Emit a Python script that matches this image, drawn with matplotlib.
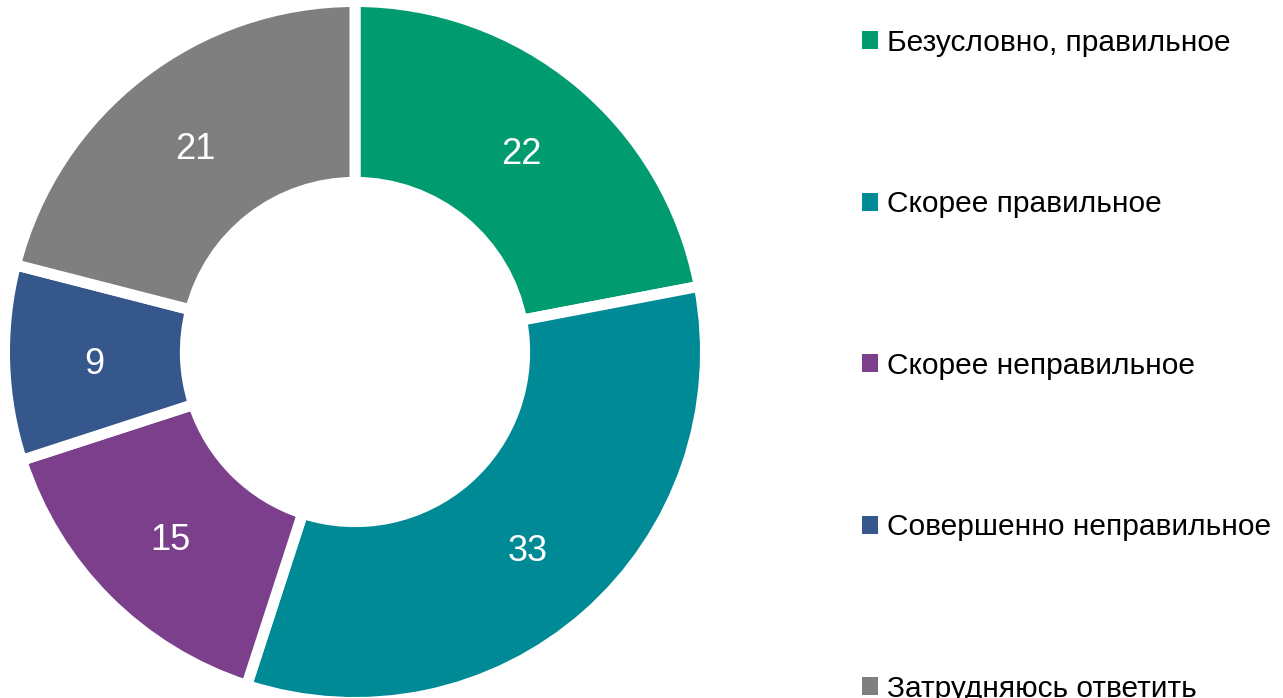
import matplotlib
matplotlib.use("Agg")
import matplotlib.pyplot as plt
from matplotlib.patches import Patch

categories = ["Безусловно, правильное", "Скорее правильное", "Скорее неправильное",
              "Совершенно неправильное", "Затрудняюсь ответить"]
values = [22, 33, 15, 9, 21]
colors = ["#009B6E", "#008A96", "#7B3F8C", "#36578C", "#7F7F7F"]

W, H = 1283, 698
fig = plt.figure(figsize=(W / 100, H / 100), dpi=100)
plt.rcParams['font.family'] = ['Liberation Sans', 'DejaVu Sans']

cx, cy = 355, 352
R = 350.5
ax = fig.add_axes([(cx - R) / W, (H - cy - R) / H, 2 * R / W, 2 * R / H])
wedges, texts, autotexts = ax.pie(
    values, colors=colors, startangle=90, counterclock=False, radius=1.0,
    wedgeprops=dict(width=0.516, edgecolor="white", linewidth=7.9),
    autopct=lambda p: f"{p:.0f}", pctdistance=0.745,
    textprops=dict(color="white", fontsize=26))
for t in autotexts:
    t.set_verticalalignment("center_baseline")
ax.set_xlim(-1, 1)
ax.set_ylim(-1, 1)
ax.set_aspect("equal")
ax.axis("off")

handles = [Patch(facecolor=c, edgecolor="none") for c in colors]
fig.legend(handles, categories, loc="upper left",
           bbox_to_anchor=(862 / W, 1 - 29 / H), frameon=False,
           fontsize=21.5, handlelength=0.55, handleheight=0.55,
           handletextpad=0.28, labelspacing=4.47, borderpad=0, borderaxespad=0)

fig.savefig("out.png", dpi=100)
